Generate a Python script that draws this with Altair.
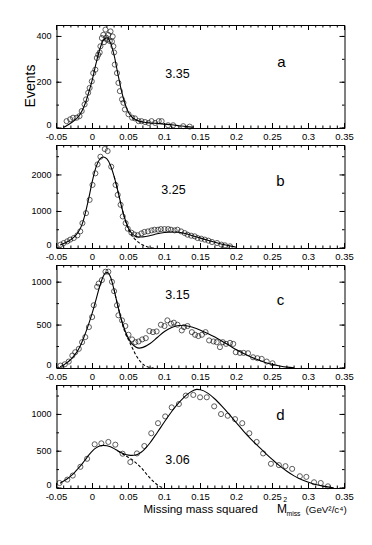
import altair as alt
import pandas as pd

# ---------------- data ----------------
energies = ["3.35", "3.25", "3.15", "3.06"]
letters = ["a", "b", "c", "d"]

# panel a
a_px = [-0.036, -0.031, -0.027, -0.022, -0.018, -0.015, -0.011, -0.009, -0.006, -0.004, -0.001, 0.001,
        0.004, 0.006, 0.008, 0.010, 0.011, 0.013, 0.015, 0.016, 0.018, 0.019, 0.020, 0.022, 0.024, 0.025,
        0.027, 0.028, 0.029, 0.030, 0.031, 0.034, 0.036, 0.038, 0.041, 0.043, 0.045, 0.050, 0.055, 0.059,
        0.064, 0.068, 0.073, 0.078, 0.082, 0.087, 0.092, 0.096, 0.105, 0.112, 0.126, 0.135]
a_py = [30, 38, 45, 45, 52, 74, 103, 125, 154, 175, 204, 240,
        255, 306, 320, 330, 357, 393, 407, 375, 430, 395, 386, 407, 380, 422,
        378, 400, 357, 330, 277, 240, 197, 161, 125, 110, 81, 60, 45, 42,
        30, 30, 26, 22, 30, 22, 30, 30, 12, 12, 8, 6]
a_fx = [-0.04, -0.035, -0.03, -0.025, -0.02, -0.015, -0.01, -0.005, 0.0, 0.005, 0.01, 0.015, 0.02, 0.025,
        0.03, 0.035, 0.04, 0.045, 0.05, 0.055, 0.06, 0.07, 0.08, 0.09, 0.1, 0.11, 0.12, 0.13, 0.14]
a_fy = [3, 12, 22, 33, 48, 72, 108, 158, 215, 283, 343, 383, 393, 372,
        318, 240, 165, 107, 68, 47, 36, 26, 22, 20, 17, 14, 10, 6, 3]
a_dx = []
a_dy = []

# panel b
b_px = [-0.0445, -0.040, -0.035, -0.031, -0.026, -0.021, -0.017, -0.014, -0.009, -0.004, 0.000, 0.004,
        0.007, 0.011, 0.017, 0.021, 0.026, 0.032, 0.035, 0.039, 0.042, 0.046, 0.049, 0.054, 0.058, 0.063,
        0.068, 0.072, 0.077, 0.082, 0.086, 0.091, 0.095, 0.100, 0.105, 0.109, 0.114, 0.118, 0.123, 0.128,
        0.132, 0.137, 0.142, 0.146, 0.151, 0.156, 0.161, 0.166, 0.173, 0.179, 0.184, 0.191]
b_py = [92, 136, 183, 229, 273, 346, 455, 681, 954, 1318, 1727, 2044,
        2289, 2499, 2709, 2654, 2226, 1727, 1455, 1183, 864, 681, 528, 420, 370, 350,
        400, 440, 455, 482, 501, 501, 518, 518, 518, 501, 482, 501, 455, 409,
        364, 337, 319, 273, 255, 229, 201, 164, 136, 92, 73, 46]
b_fx = [-0.045, -0.04, -0.035, -0.03, -0.025, -0.02, -0.015, -0.01, -0.005, 0.0, 0.005, 0.01, 0.015,
        0.02, 0.025, 0.03, 0.035, 0.04, 0.045, 0.05, 0.055, 0.06, 0.065, 0.07, 0.08, 0.09, 0.1, 0.11,
        0.12, 0.13, 0.14, 0.15, 0.16, 0.17, 0.18, 0.19, 0.2]
b_fy = [80, 120, 170, 230, 310, 430, 620, 950, 1380, 1850, 2220, 2430, 2490,
        2440, 2260, 1960, 1580, 1160, 800, 540, 390, 320, 300, 305, 340, 390, 425, 440,
        430, 390, 330, 270, 210, 155, 105, 60, 20]
b_dx = [0.03, 0.035, 0.04, 0.045, 0.05, 0.055, 0.06, 0.065, 0.07, 0.075, 0.08, 0.085]
b_dy = [1960, 1580, 1160, 790, 500, 330, 220, 140, 80, 40, 12, 0]

# panel c
c_px = [-0.0445, -0.0385, -0.033, -0.028, -0.024, -0.019, -0.0145, -0.010, -0.005, -0.0005, 0.0017,
        0.0064, 0.0086, 0.013, 0.018, 0.022, 0.027, 0.030, 0.034, 0.036, 0.041, 0.0456, 0.050, 0.055,
        0.0595, 0.064, 0.069, 0.074, 0.079, 0.084, 0.089, 0.095, 0.100, 0.104, 0.109, 0.113, 0.118,
        0.124, 0.127, 0.132, 0.138, 0.1425, 0.147, 0.152, 0.157, 0.162, 0.168, 0.1725, 0.177, 0.181,
        0.1855, 0.191, 0.1955, 0.199, 0.2048, 0.210, 0.216, 0.223, 0.229, 0.235, 0.242, 0.250]
c_py = [28, 43, 75, 145, 184, 223, 301, 360, 477, 594, 731,
        946, 984, 1024, 1122, 1122, 1004, 895, 731, 614, 555, 489, 387, 333,
        301, 309, 333, 348, 430, 418, 426, 504, 489, 555, 516, 528, 504,
        438, 477, 489, 418, 387, 372, 387, 418, 321, 309, 301, 243, 301,
        281, 293, 281, 184, 176, 176, 172, 125, 114, 106, 75, 55]
c_fx = [-0.045, -0.04, -0.035, -0.03, -0.025, -0.02, -0.015, -0.01, -0.005, 0.0, 0.005, 0.01, 0.015,
        0.02, 0.025, 0.03, 0.035, 0.04, 0.045, 0.05, 0.055, 0.06, 0.065, 0.07, 0.08, 0.09, 0.1, 0.11,
        0.12, 0.13, 0.14, 0.15, 0.16, 0.17, 0.18, 0.19, 0.2, 0.21, 0.22, 0.23, 0.24, 0.25, 0.26, 0.27, 0.28]
c_fy = [15, 35, 65, 100, 150, 210, 295, 400, 520, 650, 800, 950, 1070,
        1115, 1060, 910, 730, 570, 440, 345, 280, 245, 232, 240, 285, 355, 425, 472,
        495, 492, 472, 440, 402, 360, 312, 262, 212, 168, 128, 95, 65, 42, 24, 10, 2]
c_dx = [0.03, 0.035, 0.04, 0.045, 0.05, 0.055, 0.06, 0.065, 0.07, 0.075, 0.08, 0.085]
c_dy = [910, 730, 560, 420, 330, 240, 155, 90, 45, 18, 4, 0]

# panel d
d_px = [-0.0458, -0.035, -0.0274, -0.0168, -0.0075, 0.003, 0.0123, 0.022, 0.0317, 0.0418, 0.0525,
        0.0617, 0.072, 0.0816, 0.091, 0.101, 0.110, 0.120, 0.1296, 0.140, 0.1494, 0.1587, 0.169,
        0.1785, 0.1878, 0.198, 0.208, 0.2178, 0.228, 0.237, 0.2478, 0.2589, 0.268, 0.2773, 0.288,
        0.297, 0.3077, 0.317, 0.327]
d_py = [68, 114, 169, 288, 397, 594, 607, 626, 589, 466, 352,
        470, 571, 744, 881, 973, 1096, 1141, 1256, 1265, 1233, 1233, 1110,
        1005, 982, 936, 881, 744, 626, 470, 329, 311, 297, 260, 160,
        151, 78, 68, 23]
d_fx = [-0.045, -0.04, -0.035, -0.03, -0.025, -0.02, -0.015, -0.01, -0.005, 0.0, 0.005, 0.01, 0.015,
        0.02, 0.025, 0.03, 0.035, 0.04, 0.045, 0.05, 0.055, 0.06, 0.065, 0.07, 0.075, 0.08, 0.09, 0.1,
        0.11, 0.12, 0.13, 0.14, 0.145, 0.15, 0.16, 0.17, 0.18, 0.19, 0.2, 0.21, 0.22, 0.23, 0.24, 0.25,
        0.26, 0.27, 0.28, 0.29, 0.3, 0.31, 0.32, 0.33, 0.335]
d_fy = [65, 95, 125, 165, 210, 265, 320, 385, 450, 505, 545, 570, 580,
        575, 560, 535, 505, 478, 458, 447, 443, 448, 470, 505, 555, 615, 755, 900,
        1040, 1160, 1260, 1325, 1340, 1335, 1290, 1210, 1110, 1000, 885, 770, 665, 570, 475, 385,
        300, 228, 165, 115, 78, 48, 26, 10, 4]
d_dx = [0.035, 0.04, 0.045, 0.05, 0.055, 0.06, 0.065, 0.07, 0.075, 0.08, 0.085, 0.09, 0.095, 0.1]
d_dy = [505, 475, 445, 415, 385, 345, 300, 250, 190, 135, 85, 45, 15, 2]

points = [(a_px, a_py), (b_px, b_py), (c_px, c_py), (d_px, d_py)]
fits = [(a_fx, a_fy), (b_fx, b_fy), (c_fx, c_fy), (d_fx, d_fy)]
dashed = [(a_dx, a_dy), (b_dx, b_dy), (c_dx, c_dy), (d_dx, d_dy)]

# axis scales and tick values / tick labels
x_domain = [-0.05, 0.35]
x_major = [round(-0.05 + 0.05 * i, 2) for i in range(9)]
x_labels = ["-0.05", "0", "0.05", "0.1", "0.15", "0.2", "0.25", "0.3", "0.35"]
x_minor = [round(-0.05 + 0.01 * i, 2) for i in range(41)]
y_domains = [[0, 450], [0, 2820], [0, 1200], [0, 1400]]
y_major = [[0, 200, 400], [0, 1000, 2000], [0, 500, 1000], [0, 500, 1000]]
y_minor = [[0, 100, 200, 300, 400], [0, 500, 1000, 1500, 2000, 2500],
           [0, 250, 500, 750, 1000], [0, 250, 500, 750, 1000, 1250]]

y_title = "Events"
x_title = "Missing mass squared"
x_unit = "(GeV²/c⁴)"

# ---------------- styling ----------------
SANS = "Liberation Sans, Arial, Helvetica, sans-serif"
W, H = 288, 103
MAJ, MIN = 5, 2.5
XLAB_SIZE = 9.5
YLAB_SIZE = 9

# annotation positions (panel pixels)
energy_pos = [(121, 49), (117, 45), (121, 30), (121, 75)]
letter_pos = [(225, 37), (224, 36), (224, 35), (224, 30)]


def text_layer(txt, pos, size, align="center", angle=0):
    return alt.Chart(pd.DataFrame({"t": [txt]})).mark_text(
        font=SANS, fontSize=size, color="black", align=align, baseline="middle", angle=angle
    ).encode(text="t:N", x=alt.value(pos[0]), y=alt.value(pos[1]))


def panel(i):
    px, py = points[i]
    fx, fy = fits[i]
    dx, dy = dashed[i]
    pts = pd.DataFrame({"x": px, "y": py})
    fit = pd.DataFrame({"x": fx, "y": fy})
    xs = alt.Scale(domain=x_domain, nice=False, zero=False)
    ys = alt.Scale(domain=y_domains[i], nice=False, zero=False)

    def ex(field):
        return alt.X(field, scale=xs, axis=None)

    def ey(field):
        return alt.Y(field, scale=ys, axis=None)

    def xtick(values, size, top):
        y0 = 0 if top else H
        y1 = size if top else H - size
        return alt.Chart(pd.DataFrame({"v": values})).mark_rule(color="black", strokeWidth=1).encode(
            x=ex("v:Q"), y=alt.value(y0), y2=alt.value(y1))

    def ytick(values, size, right):
        x0 = W if right else 0
        x1 = W - size if right else size
        return alt.Chart(pd.DataFrame({"v": values})).mark_rule(color="black", strokeWidth=1).encode(
            y=ey("v:Q"), x=alt.value(x0), x2=alt.value(x1))

    # tick labels drawn at the scale positions of the tick values
    xlab = alt.Chart(pd.DataFrame({"v": x_major, "t": x_labels})).mark_text(
        font=SANS, fontSize=XLAB_SIZE, color="black", align="center", baseline="top"
    ).encode(x=ex("v:Q"), y=alt.value(H + 4), text="t:N")
    ynz = [v for v in y_major[i] if v != 0]
    ylab = alt.Chart(pd.DataFrame({"v": ynz, "t": [str(v) for v in ynz]})).mark_text(
        font=SANS, fontSize=YLAB_SIZE, color="black", align="right", baseline="middle"
    ).encode(y=ey("v:Q"), x=alt.value(-5), text="t:N")
    ylab0 = alt.Chart(pd.DataFrame({"v": [0], "t": ["0"]})).mark_text(
        font=SANS, fontSize=YLAB_SIZE, color="black", align="right", baseline="alphabetic"
    ).encode(y=ey("v:Q"), x=alt.value(-5), text="t:N")

    layers = [
        alt.Chart(pts).mark_point(shape="circle", filled=False, size=26, color="black",
                                  strokeWidth=0.9).encode(x=ex("x:Q"), y=ey("y:Q")),
        alt.Chart(fit).mark_line(color="black", strokeWidth=1.1, interpolate="monotone").encode(
            x=ex("x:Q"), y=ey("y:Q")),
    ]
    if dx:
        dash = pd.DataFrame({"x": dx, "y": dy})
        layers.append(
            alt.Chart(dash).mark_line(color="black", strokeWidth=1.1, strokeDash=[3, 2],
                                      interpolate="monotone").encode(x=ex("x:Q"), y=ey("y:Q")))
    layers += [
        xtick(x_major, MAJ, False), xtick(x_major, MAJ, True),
        xtick(x_minor, MIN, False), xtick(x_minor, MIN, True),
        ytick(y_major[i], MAJ, False), ytick(y_major[i], MAJ, True),
        ytick(y_minor[i], MIN, False), ytick(y_minor[i], MIN, True),
        xlab, ylab, ylab0,
    ]
    layers.append(text_layer(energies[i], energy_pos[i], 12.5))
    layers.append(text_layer(letters[i], letter_pos[i], 15))
    if i == 0:
        layers.append(text_layer(y_title, (-25.5, 61), 14, angle=270))
    if i == 3:
        layers.append(text_layer(x_title, (87, 124.5), 11.5, align="left"))
        layers.append(text_layer("M", (220.5, 124), 12, align="left"))
        layers.append(text_layer("2", (228.7, 115), 7))
        layers.append(text_layer("miss", (230, 129), 6.8, align="left"))
        layers.append(text_layer(x_unit, (249, 124.5), 9.8, align="left"))
    return alt.layer(*layers).properties(width=W, height=H)


chart = alt.vconcat(*[panel(i) for i in range(4)], spacing=2).properties(
    padding={"left": 15.5, "top": 16, "right": 5, "bottom": 5},
    background="white",
).configure_view(stroke="black", strokeWidth=1)

chart.save("out.html", embed_options={"renderer": "svg", "actions": False})
